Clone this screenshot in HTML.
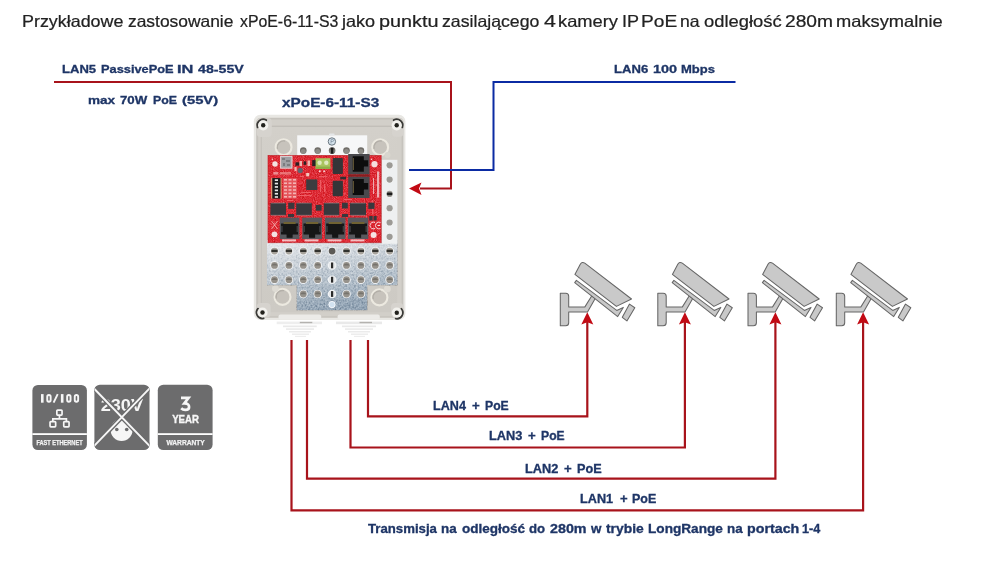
<!DOCTYPE html>
<html><head><meta charset="utf-8">
<style>
html,body{margin:0;padding:0;background:#fff;width:1002px;height:562px;overflow:hidden;position:relative;font-family:"Liberation Sans",sans-serif;}
.t{position:absolute;white-space:nowrap;line-height:1;transform-origin:0 0;will-change:transform;}
.nav{color:#1e3566;font-weight:bold;-webkit-text-stroke:0.3px #1e3566;}
#svgmain{position:absolute;left:0;top:0;}
</style></head><body>
<div id="title" style="position:absolute;left:0;top:13.25px;font-size:15.2px;color:#222;line-height:1;-webkit-text-stroke:0.2px #222;"><span class="t tw" style="left:22.00px;transform:scale(1.1779,1.1);">Przykładowe</span><span class="t tw" style="left:127.50px;transform:scale(1.1452,1.1);">zastosowanie</span><span class="t tw" style="left:240.00px;transform:scale(1.0431,1.1);">xPoE-6-11-S3</span><span class="t tw" style="left:342.10px;transform:scale(1.1874,1.1);">jako</span><span class="t tw" style="left:378.90px;transform:scale(1.3055,1.1);">punktu</span><span class="t tw" style="left:442.00px;transform:scale(1.1645,1.1);">zasilającego</span><span class="t tw" style="left:543.50px;transform:scale(1.4074,1.1);">4</span><span class="t tw" style="left:558.10px;transform:scale(1.2050,1.1);">kamery</span><span class="t tw" style="left:621.80px;transform:scale(1.1834,1.1);">IP</span><span class="t tw" style="left:641.10px;transform:scale(1.2585,1.1);">PoE</span><span class="t tw" style="left:680.40px;transform:scale(1.1569,1.1);">na</span><span class="t tw" style="left:704.30px;transform:scale(1.2089,1.1);">odległość</span><span class="t tw" style="left:785.00px;transform:scale(1.2639,1.1);">280m</span><span class="t tw" style="left:836.20px;transform:scale(1.2032,1.1);">maksymalnie</span></div>
<div id="lan5" class="nav" style="position:absolute;left:0;top:64.07px;font-size:11.5px;line-height:1;"><span class="t" style="left:62.00px;transform:scaleX(1.1364);">LAN5</span><span class="t" style="left:100.80px;transform:scaleX(1.1138);">PassivePoE</span><span class="t" style="left:176.80px;transform:scaleX(1.4208);">IN</span><span class="t" style="left:198.30px;transform:scaleX(1.2330);">48-55V</span></div>
<div id="max70" class="nav" style="position:absolute;left:0;top:94.87px;font-size:10.9px;line-height:1;"><span class="t" style="left:87.60px;transform:scaleX(1.2428);">max</span><span class="t" style="left:120.10px;transform:scaleX(1.2173);">70W</span><span class="t" style="left:152.50px;transform:scaleX(1.1317);">PoE</span><span class="t" style="left:181.60px;transform:scaleX(1.3562);">(55V)</span></div>
<div id="xpoe" class="t nav" style="left:282.00px;top:96.83px;font-size:12.6px;word-spacing:0px;transform:scale(1.2178,1.0);">xPoE-6-11-S3</div>
<div id="lan6" class="nav" style="position:absolute;left:0;top:63.77px;font-size:11.5px;line-height:1;"><span class="t" style="left:614.30px;transform:scaleX(1.1379);">LAN6</span><span class="t" style="left:652.80px;transform:scaleX(1.2562);">100</span><span class="t" style="left:680.80px;transform:scaleX(1.1335);">Mbps</span></div>
<div id="lan4" class="nav" style="position:absolute;left:0;top:399.57px;font-size:12.2px;line-height:1;"><span class="t" style="left:433.30px;transform:scaleX(1.0340);">LAN4</span><span class="t" style="left:471.70px;transform:scaleX(1.0873);">+</span><span class="t" style="left:484.90px;transform:scaleX(0.9990);">PoE</span></div>
<div id="lan3" class="nav" style="position:absolute;left:0;top:429.87px;font-size:12.2px;line-height:1;"><span class="t" style="left:489.00px;transform:scaleX(1.0495);">LAN3</span><span class="t" style="left:528.40px;transform:scaleX(1.0801);">+</span><span class="t" style="left:540.60px;transform:scaleX(0.9924);">PoE</span></div>
<div id="lan2" class="nav" style="position:absolute;left:0;top:462.57px;font-size:12.2px;line-height:1;"><span class="t" style="left:524.90px;transform:scaleX(1.0480);">LAN2</span><span class="t" style="left:564.30px;transform:scaleX(1.0786);">+</span><span class="t" style="left:576.50px;transform:scaleX(1.0400);">PoE</span></div>
<div id="lan1" class="nav" style="position:absolute;left:0;top:492.67px;font-size:12.2px;line-height:1;"><span class="t" style="left:580.40px;transform:scaleX(1.0396);">LAN1</span><span class="t" style="left:619.80px;transform:scaleX(1.0700);">+</span><span class="t" style="left:632.00px;transform:scaleX(1.0248);">PoE</span></div>
<div id="trans" class="nav" style="position:absolute;left:0;top:522.67px;font-size:12.2px;line-height:1;"><span class="t" style="left:368.00px;transform:scaleX(1.0825);">Transmisja</span><span class="t" style="left:441.40px;transform:scaleX(1.1000);">na</span><span class="t" style="left:462.00px;transform:scaleX(1.1100);">odległość</span><span class="t" style="left:529.20px;transform:scaleX(1.0826);">do</span><span class="t" style="left:550.30px;transform:scaleX(1.1727);">280m</span><span class="t" style="left:590.70px;transform:scaleX(1.1000);">w</span><span class="t" style="left:606.00px;transform:scaleX(1.1384);">trybie</span><span class="t" style="left:648.00px;transform:scaleX(1.1171);">LongRange</span><span class="t" style="left:726.80px;transform:scaleX(1.1000);">na</span><span class="t" style="left:747.00px;transform:scaleX(1.1703);">portach</span><span class="t" style="left:802.30px;transform:scaleX(1.0357);">1-4</span></div>

<svg id="svgmain" width="1002" height="562" viewBox="0 0 1002 562" font-family="Liberation Sans">
<defs>
<g id="cam" fill="#c9c9c9" stroke="#666" stroke-width="1.05" stroke-linejoin="round">
  <path d="M5.3,35.2 H10.7 Q13.7,35.2 13.7,38.2 V48.9 H29.9 L36.8,37.8 L40.2,40.4 L32.5,54 H13.7 V64.7 Q13.7,67.7 10.7,67.7 H5.3 Z"/>
  <path d="M21.4,22.4 L61.7,52.4 L68.3,49.4 L62.7,58.6 L19.7,24.6 Z"/>
  <path d="M19.9,16.4 L25.3,6.3 Q26.9,3.4 29.8,5.1 L76.5,41 L61.4,48.4 Z"/>
  <path d="M74.5,46.1 L79.8,49.7 L71.9,62.9 L67.3,59.3 Z"/>
</g>
</defs>
<use href="#cam" x="555" y="258"/>
<use href="#cam" x="652.5" y="258"/>
<use href="#cam" x="742.7" y="258"/>
<use href="#cam" x="831" y="258"/>
<defs>
<linearGradient id="plateg" x1="0" y1="0" x2="0.25" y2="1">
  <stop offset="0" stop-color="#eaecef"/><stop offset="0.3" stop-color="#d2d8de"/><stop offset="0.7" stop-color="#b3bfca"/><stop offset="1" stop-color="#97a8b8"/>
</linearGradient>
<linearGradient id="floorg" x1="0" y1="0" x2="0" y2="1">
  <stop offset="0" stop-color="#d3d0ca"/><stop offset="1" stop-color="#cdcac4"/>
</linearGradient>
<filter id="speck" x="0" y="0" width="1" height="1" color-interpolation-filters="sRGB">
  <feTurbulence type="fractalNoise" baseFrequency="0.55" numOctaves="2" seed="7" result="n"/>
  <feColorMatrix in="n" type="matrix" values="0.33 0.33 0.33 0 0  0.33 0.33 0.33 0 0  0.33 0.33 0.33 0 0  0 0 0 0 1" result="g"/>
  <feComponentTransfer in="g" result="g2"><feFuncR type="linear" slope="1.8" intercept="-0.4"/><feFuncG type="linear" slope="1.8" intercept="-0.4"/><feFuncB type="linear" slope="1.8" intercept="-0.4"/></feComponentTransfer>
  <feBlend in="g2" in2="SourceGraphic" mode="soft-light" result="b"/>
  <feComposite in="b" in2="SourceAlpha" operator="in"/>
</filter>
<filter id="pcbspeck" x="0" y="0" width="1" height="1" color-interpolation-filters="sRGB">
  <feTurbulence type="fractalNoise" baseFrequency="1.1" numOctaves="1" seed="11" result="n"/>
  <feColorMatrix in="n" type="matrix" values="0.33 0.33 0.33 0 0  0.33 0.33 0.33 0 0  0.33 0.33 0.33 0 0  0 0 0 0 1" result="g"/>
  <feComponentTransfer in="g" result="g2"><feFuncR type="linear" slope="2.2" intercept="-0.55"/><feFuncG type="linear" slope="2.2" intercept="-0.55"/><feFuncB type="linear" slope="2.2" intercept="-0.55"/></feComponentTransfer>
  <feBlend in="g2" in2="SourceGraphic" mode="soft-light" result="b"/>
  <feComposite in="b" in2="SourceAlpha" operator="in"/>
</filter>
<filter id="soft" x="-5%" y="-5%" width="110%" height="110%"><feGaussianBlur stdDeviation="0.35"/></filter>
</defs><g id="device" filter="url(#soft)">
  <!-- glands -->
  <g>
    <rect x="276.7" y="321.6" width="45.3" height="2.6" fill="#eeeeee"/>
    <rect x="299.8" y="321.8" width="12.5" height="1.4" fill="#b4b2af"/>
    <rect x="283" y="325.5" width="33.7" height="1.7" fill="#e9e9e9"/>
    <rect x="286" y="328.3" width="28" height="1.6" fill="#eaeaea"/>
    <rect x="289" y="331" width="22" height="1.5" fill="#ebebeb"/>
    <rect x="292" y="333.5" width="17" height="1.4" fill="#ececec"/>
    <rect x="295" y="335.8" width="11" height="1.2" fill="#ededed"/>
    <rect x="336" y="321.6" width="46" height="2.6" fill="#e9e9e9"/>
    <rect x="359.5" y="321.8" width="12.5" height="1.4" fill="#b4b2af"/>
    <rect x="342" y="325.5" width="34" height="1.7" fill="#e9e9e9"/>
    <rect x="345" y="328.3" width="28" height="1.6" fill="#eaeaea"/>
    <rect x="348" y="331" width="22" height="1.5" fill="#ebebeb"/>
    <rect x="351" y="333.5" width="17" height="1.4" fill="#ececec"/>
    <rect x="354" y="335.8" width="11" height="1.2" fill="#ededed"/>
  </g>
  <!-- enclosure -->
  <rect x="253.8" y="114.8" width="151.6" height="205.2" rx="6.5" fill="#e8e7e3"/>
  <rect x="256.2" y="117.8" width="147.2" height="200" rx="4.5" fill="#c6c3bd"/>
  <rect x="258.2" y="119.6" width="143.4" height="196.6" rx="3" fill="#d2cfc9"/>
  <rect x="261.7" y="126.2" width="135.5" height="186" fill="url(#floorg)"/>
  <rect x="258.2" y="125.6" width="143.4" height="1.4" fill="#c2bfb9"/>
  <rect x="260.8" y="126" width="0.9" height="186" fill="#c2bfb9"/>
  <!-- boss protrusions -->
  <rect x="256.6" y="118" width="15.2" height="19" rx="4" fill="#d6d3ce"/>
  <rect x="392" y="118" width="11.6" height="18.7" rx="4" fill="#d6d3ce"/>
  <rect x="256.6" y="303" width="14" height="14.5" rx="4" fill="#d6d3ce"/>
  <rect x="391" y="303" width="12.4" height="14.5" rx="4" fill="#d6d3ce"/>
  <path d="M257.66 127.32 A5.9 5.9 0 0 1 266.15 120.19" stroke="#3b3a37" stroke-width="2.0" fill="none" stroke-linecap="round"/><circle cx="263.2" cy="125.3" r="5.1" fill="#f2f1ed"/><circle cx="263.2" cy="125.3" r="2.2" fill="#24231f"/>
  <path d="M393.75 120.19 A5.9 5.9 0 0 1 402.24 127.32" stroke="#3b3a37" stroke-width="2.0" fill="none" stroke-linecap="round"/><circle cx="396.7" cy="125.3" r="5.1" fill="#f2f1ed"/><circle cx="396.7" cy="125.3" r="2.2" fill="#24231f"/>
  <path d="M263.52 318.31 A5.9 5.9 0 0 1 257.98 308.71" stroke="#3b3a37" stroke-width="2.0" fill="none" stroke-linecap="round"/><circle cx="262.5" cy="312.5" r="5.1" fill="#f2f1ed"/><circle cx="262.5" cy="312.5" r="2.2" fill="#24231f"/>
  <path d="M401.32 308.91 A5.9 5.9 0 0 1 395.78 318.51" stroke="#3b3a37" stroke-width="2.0" fill="none" stroke-linecap="round"/><circle cx="396.8" cy="312.7" r="5.1" fill="#f2f1ed"/><circle cx="396.8" cy="312.7" r="2.2" fill="#24231f"/>
  <rect x="278.5" y="314.6" width="42.7" height="5" rx="2" fill="#ecebe8"/>
  <rect x="337.6" y="314.6" width="42.2" height="5" rx="2" fill="#ecebe8"/>
  <!-- ring bosses -->
  <g fill="#c7c3bc" stroke="#ece9e0" stroke-width="2.1">
    <circle cx="283.6" cy="147.2" r="7.9"/>
    <circle cx="380.2" cy="147.2" r="7.9"/>
    <circle cx="282.5" cy="296.9" r="8.0"/>
    <circle cx="379.4" cy="297.4" r="8.0"/>
  </g>
  <path d="M277.40 148.29 A6.3 6.3 0 0 1 284.69 141.00" stroke="#b3afa8" stroke-width="1.4" fill="none" stroke-linecap="round"/><path d="M374.00 148.29 A6.3 6.3 0 0 1 381.29 141.00" stroke="#b3afa8" stroke-width="1.4" fill="none" stroke-linecap="round"/>
  <path d="M276.20 298.01 A6.4 6.4 0 0 1 283.61 290.60" stroke="#b3afa8" stroke-width="1.4" fill="none" stroke-linecap="round"/><path d="M373.10 298.51 A6.4 6.4 0 0 1 380.51 291.10" stroke="#b3afa8" stroke-width="1.4" fill="none" stroke-linecap="round"/>
  <circle cx="275.4" cy="288.5" r="3.4" fill="#dedbd4"/>
  <circle cx="387.4" cy="288.9" r="3.4" fill="#dedbd4"/>
  <circle cx="387.5" cy="155" r="3" fill="#d8d5ce"/>
  <!-- top plate -->
  <rect x="297.2" y="135.3" width="70" height="22" fill="#f6f7f8"/><rect x="329" y="133.6" width="5.6" height="2" rx="1" fill="#e4e6e8"/>
  <circle cx="303.3" cy="150.5" r="3.3" fill="#6f6d68"/><circle cx="303.3" cy="151.6" r="2.5" fill="#8e8c87"/><circle cx="317.7" cy="150.5" r="3.3" fill="#6f6d68"/><circle cx="317.7" cy="151.6" r="2.5" fill="#8e8c87"/><circle cx="332.1" cy="150.5" r="3.3" fill="#6f6d68"/><circle cx="332.1" cy="151.6" r="2.5" fill="#8e8c87"/><rect x="330.8" y="147.7" width="2.6" height="6" fill="#1c1c1c"/><circle cx="346.5" cy="150.5" r="3.3" fill="#6f6d68"/><circle cx="346.5" cy="151.6" r="2.5" fill="#8e8c87"/><circle cx="360.9" cy="150.5" r="3.3" fill="#6f6d68"/><circle cx="360.9" cy="151.6" r="2.5" fill="#8e8c87"/>
  <circle cx="331.9" cy="141.5" r="3.7" fill="#d4e2ec" stroke="#5d6a74" stroke-width="0.9"/><path d="M331 139.6 V143.4 M331 139.6 H332.8 Q333.6 139.6 333.6 140.6 Q333.6 141.5 332.6 141.5 H331" stroke="#6b8090" stroke-width="0.6" fill="none"/>
  <!-- lower plate -->
  <path d="M267 240 H397.6 V285.3 H367.4 V310.2 H296.6 V285.3 H267 Z" fill="url(#plateg)" filter="url(#speck)"/>
  <circle cx="274.5" cy="251.1" r="4.3" fill="#f1f3f5"/><circle cx="274.5" cy="251.1" r="3.4" fill="#a6a29b"/><rect x="271.4" y="249.7" width="6.2" height="2.3" fill="#33322f"/><circle cx="288.9" cy="251.1" r="4.3" fill="#f1f3f5"/><circle cx="288.9" cy="251.1" r="3.4" fill="#a6a29b"/><rect x="285.8" y="249.7" width="6.2" height="2.3" fill="#33322f"/><circle cx="303.3" cy="251.1" r="4.3" fill="#f1f3f5"/><circle cx="303.3" cy="251.1" r="3.4" fill="#a6a29b"/><rect x="300.2" y="249.7" width="6.2" height="2.3" fill="#33322f"/><circle cx="317.7" cy="251.1" r="4.3" fill="#f1f3f5"/><circle cx="317.7" cy="251.1" r="3.4" fill="#a6a29b"/><rect x="314.6" y="249.7" width="6.2" height="2.3" fill="#33322f"/><circle cx="332.1" cy="251.1" r="4.3" fill="#f1f3f5"/><circle cx="332.1" cy="251.1" r="3.4" fill="#5c5a56"/><circle cx="346.5" cy="251.1" r="4.3" fill="#f1f3f5"/><circle cx="346.5" cy="251.1" r="3.4" fill="#a6a29b"/><rect x="343.4" y="249.7" width="6.2" height="2.3" fill="#33322f"/><circle cx="360.9" cy="251.1" r="4.3" fill="#f1f3f5"/><circle cx="360.9" cy="251.1" r="3.4" fill="#a6a29b"/><rect x="357.8" y="249.7" width="6.2" height="2.3" fill="#33322f"/><circle cx="375.3" cy="251.1" r="4.3" fill="#f1f3f5"/><circle cx="375.3" cy="251.1" r="3.4" fill="#a6a29b"/><rect x="372.2" y="249.7" width="6.2" height="2.3" fill="#33322f"/><circle cx="389.7" cy="251.1" r="4.3" fill="#f1f3f5"/><circle cx="389.7" cy="251.1" r="3.4" fill="#a6a29b"/><rect x="386.6" y="249.7" width="6.2" height="2.3" fill="#33322f"/><circle cx="274.5" cy="265.4" r="4.3" fill="#f1f3f5"/><circle cx="274.5" cy="265.4" r="3.4" fill="#96928b"/><path d="M271.4 265.6 A3.4 3.4 0 0 1 277.6 265.6 Z" fill="#76736d"/><circle cx="288.9" cy="265.4" r="4.3" fill="#f1f3f5"/><circle cx="288.9" cy="265.4" r="3.4" fill="#96928b"/><path d="M285.8 265.6 A3.4 3.4 0 0 1 292.0 265.6 Z" fill="#76736d"/><circle cx="303.3" cy="265.4" r="4.3" fill="#f1f3f5"/><circle cx="303.3" cy="265.4" r="3.4" fill="#96928b"/><path d="M300.2 265.6 A3.4 3.4 0 0 1 306.4 265.6 Z" fill="#76736d"/><circle cx="317.7" cy="265.4" r="4.3" fill="#f1f3f5"/><circle cx="317.7" cy="265.4" r="3.4" fill="#96928b"/><path d="M314.6 265.6 A3.4 3.4 0 0 1 320.8 265.6 Z" fill="#76736d"/><circle cx="332.1" cy="265.4" r="4.3" fill="#f1f3f5"/><circle cx="332.1" cy="265.4" r="3.1" fill="#e4e6e8"/><rect x="331.0" y="262.5" width="2.2" height="5.8" fill="#2a2a2a"/><circle cx="346.5" cy="265.4" r="4.3" fill="#f1f3f5"/><circle cx="346.5" cy="265.4" r="3.4" fill="#96928b"/><path d="M343.4 265.6 A3.4 3.4 0 0 1 349.6 265.6 Z" fill="#76736d"/><circle cx="360.9" cy="265.4" r="4.3" fill="#f1f3f5"/><circle cx="360.9" cy="265.4" r="3.4" fill="#96928b"/><path d="M357.8 265.6 A3.4 3.4 0 0 1 364.0 265.6 Z" fill="#76736d"/><circle cx="375.3" cy="265.4" r="4.3" fill="#f1f3f5"/><circle cx="375.3" cy="265.4" r="3.4" fill="#96928b"/><path d="M372.2 265.6 A3.4 3.4 0 0 1 378.4 265.6 Z" fill="#76736d"/><circle cx="389.7" cy="265.4" r="4.3" fill="#f1f3f5"/><circle cx="389.7" cy="265.4" r="3.4" fill="#96928b"/><path d="M386.6 265.6 A3.4 3.4 0 0 1 392.8 265.6 Z" fill="#76736d"/><circle cx="274.5" cy="279.7" r="4.3" fill="#f1f3f5"/><circle cx="274.5" cy="279.7" r="3.4" fill="#96928b"/><path d="M271.4 279.9 A3.4 3.4 0 0 1 277.6 279.9 Z" fill="#76736d"/><circle cx="288.9" cy="279.7" r="4.3" fill="#f1f3f5"/><circle cx="288.9" cy="279.7" r="3.4" fill="#96928b"/><path d="M285.8 279.9 A3.4 3.4 0 0 1 292.0 279.9 Z" fill="#76736d"/><circle cx="303.3" cy="279.7" r="4.3" fill="#f1f3f5"/><circle cx="303.3" cy="279.7" r="3.4" fill="#96928b"/><path d="M300.2 279.9 A3.4 3.4 0 0 1 306.4 279.9 Z" fill="#76736d"/><circle cx="317.7" cy="279.7" r="4.3" fill="#f1f3f5"/><circle cx="317.7" cy="279.7" r="3.4" fill="#96928b"/><path d="M314.6 279.9 A3.4 3.4 0 0 1 320.8 279.9 Z" fill="#76736d"/><circle cx="332.1" cy="279.7" r="4.3" fill="#f1f3f5"/><circle cx="332.1" cy="279.7" r="3.1" fill="#e4e6e8"/><rect x="331.0" y="276.8" width="2.2" height="5.8" fill="#2a2a2a"/><circle cx="346.5" cy="279.7" r="4.3" fill="#f1f3f5"/><circle cx="346.5" cy="279.7" r="3.4" fill="#96928b"/><path d="M343.4 279.9 A3.4 3.4 0 0 1 349.6 279.9 Z" fill="#76736d"/><circle cx="360.9" cy="279.7" r="4.3" fill="#f1f3f5"/><circle cx="360.9" cy="279.7" r="3.4" fill="#96928b"/><path d="M357.8 279.9 A3.4 3.4 0 0 1 364.0 279.9 Z" fill="#76736d"/><circle cx="375.3" cy="279.7" r="4.3" fill="#f1f3f5"/><circle cx="375.3" cy="279.7" r="3.4" fill="#96928b"/><path d="M372.2 279.9 A3.4 3.4 0 0 1 378.4 279.9 Z" fill="#76736d"/><circle cx="389.7" cy="279.7" r="4.3" fill="#f1f3f5"/><circle cx="389.7" cy="279.7" r="3.4" fill="#96928b"/><path d="M386.6 279.9 A3.4 3.4 0 0 1 392.8 279.9 Z" fill="#76736d"/><circle cx="303.3" cy="294.0" r="4.3" fill="#f1f3f5"/><circle cx="303.3" cy="294.0" r="3.4" fill="#96928b"/><path d="M300.2 294.2 A3.4 3.4 0 0 1 306.4 294.2 Z" fill="#76736d"/><circle cx="317.7" cy="294.0" r="4.3" fill="#f1f3f5"/><circle cx="317.7" cy="294.0" r="3.4" fill="#96928b"/><path d="M314.6 294.2 A3.4 3.4 0 0 1 320.8 294.2 Z" fill="#76736d"/><circle cx="332.1" cy="294.0" r="4.3" fill="#f1f3f5"/><circle cx="332.1" cy="294.0" r="3.1" fill="#e4e6e8"/><rect x="331.0" y="291.1" width="2.2" height="5.8" fill="#2a2a2a"/><circle cx="346.5" cy="294.0" r="4.3" fill="#f1f3f5"/><circle cx="346.5" cy="294.0" r="3.4" fill="#96928b"/><path d="M343.4 294.2 A3.4 3.4 0 0 1 349.6 294.2 Z" fill="#76736d"/><circle cx="360.9" cy="294.0" r="4.3" fill="#f1f3f5"/><circle cx="360.9" cy="294.0" r="3.4" fill="#96928b"/><path d="M357.8 294.2 A3.4 3.4 0 0 1 364.0 294.2 Z" fill="#76736d"/>
  <circle cx="332" cy="304.6" r="3.2" fill="#d2e2f0" stroke="#fafcfe" stroke-width="0.9"/>
  <!-- right strip -->
  <rect x="381.8" y="159.8" width="15.6" height="84" fill="#eef0f1"/>
  <circle cx="389.6" cy="165.7" r="3.3" fill="#fafafa"/><circle cx="389.6" cy="165.3" r="3.1" fill="#9c9a95"/><circle cx="389.6" cy="180.0" r="3.3" fill="#fafafa"/><circle cx="389.6" cy="179.6" r="3.1" fill="#9c9a95"/><circle cx="389.6" cy="194.3" r="3.3" fill="#fafafa"/><circle cx="389.6" cy="193.9" r="3.1" fill="#9c9a95"/><rect x="386.8" y="192.6" width="5.6" height="2.6" rx="1.2" fill="#1f1f1f"/><circle cx="389.6" cy="208.6" r="3.3" fill="#fafafa"/><circle cx="389.6" cy="208.2" r="3.1" fill="#9c9a95"/><circle cx="389.6" cy="222.9" r="3.3" fill="#fafafa"/><circle cx="389.6" cy="222.5" r="3.1" fill="#9c9a95"/><circle cx="389.6" cy="237.2" r="3.3" fill="#fafafa"/><circle cx="389.6" cy="236.8" r="3.1" fill="#9c9a95"/>
  <!-- PCB -->
  <rect x="268" y="155.3" width="113.2" height="87.5" fill="#dc2630" filter="url(#pcbspeck)"/>
  <rect x="268" y="155.3" width="113.2" height="87.5" fill="none" stroke="#c41e26" stroke-width="0.6"/>
  <!-- light speckle texture areas -->
  <g fill="#f26a70" opacity="0.8">
    <rect x="296" y="168" width="1.2" height="6"/><rect x="300" y="176" width="4" height="1"/><rect x="319" y="176" width="8" height="1.2"/>
    <rect x="320" y="180" width="1.2" height="12"/><rect x="324" y="184" width="1.2" height="8"/><rect x="287" y="200" width="6" height="1"/>
    <rect x="301" y="192" width="10" height="1"/><rect x="298" y="195" width="14" height="1"/><rect x="344" y="199" width="8" height="1"/>
    <rect x="372" y="200" width="1.2" height="14"/><rect x="366" y="216" width="1" height="20"/>
  </g>
  <!-- QR -->
  <rect x="280.1" y="155.8" width="12.4" height="12.9" fill="#e9d6d8"/>
  <rect x="281.1" y="156.8" width="10.4" height="10.9" fill="#9fa0a4"/>
  <g fill="#7b7c80"><rect x="282" y="158" width="3" height="2"/><rect x="286" y="160" width="4" height="2"/><rect x="283" y="163" width="2" height="3"/><rect x="287" y="164" width="3" height="2"/></g>
  <circle cx="275" cy="164" r="2.7" fill="#f4e2e2"/>
  <circle cx="272.4" cy="159.3" r="0.8" fill="#f4c8c8"/>
  <!-- small parts -->
  <g fill="#2b2425">
    <rect x="295.5" y="162.3" width="3.8" height="3.4"/><rect x="303.6" y="161.4" width="2.6" height="3.4"/><rect x="312.2" y="160.1" width="3.8" height="6"/>
  </g>
  <g fill="#f0b6b0"><rect x="299.5" y="161" width="2.5" height="5"/><rect x="307.5" y="160.5" width="2.5" height="5.5"/><rect x="294.5" y="167" width="2" height="4"/></g>
  <circle cx="300.2" cy="170.4" r="2.6" fill="#5f6670"/>
  <rect x="306.2" y="173" width="3" height="3.4" fill="#f3c9c0"/>
  <!-- green terminal -->
  <rect x="315.6" y="158.2" width="14.8" height="10.6" fill="#a9c45e"/>
  <rect x="315.6" y="166.6" width="14.8" height="2.2" fill="#8fae48"/>
  <circle cx="319.6" cy="162.8" r="2.2" fill="#dfe9c0"/><circle cx="326.3" cy="162.8" r="2.2" fill="#dfe9c0"/>
  <circle cx="319.8" cy="171.2" r="0.9" fill="#f8e0e0"/><circle cx="324.1" cy="171.2" r="0.9" fill="#f8e0e0"/>
  <!-- PoE text -->
  <rect x="273.3" y="172" width="5" height="2.6" fill="#f0a0a4" opacity="0.8"/><rect x="280" y="172" width="11" height="2.6" fill="#f09090" opacity="0.7"/>
  <!-- DIP switch -->
  <rect x="271.2" y="178.1" width="1.3" height="20.5" fill="#d9b07a"/>
  <rect x="280.2" y="178.1" width="1.3" height="20.5" fill="#d9b07a"/>
  <rect x="272.3" y="178.1" width="8.2" height="20.5" fill="#1c1c1e"/>
  <g fill="#e6e6e6">
    <rect x="274.8" y="179.3" width="3.2" height="1.7"/><rect x="274.8" y="182.7" width="3.2" height="1.7"/><rect x="274.8" y="186.1" width="3.2" height="1.7"/><rect x="274.8" y="189.5" width="3.2" height="1.7"/><rect x="274.8" y="192.9" width="3.2" height="1.7"/><rect x="274.8" y="196.2" width="3.2" height="1.6"/>
  </g>
  <!-- resistor array -->
  <rect x="283" y="178.1" width="14" height="20.5" fill="#e4545a"/>
  <g fill="#f4b4b4">
    <rect x="284" y="179" width="3" height="1.6"/><rect x="288.5" y="179" width="3" height="1.6"/><rect x="293" y="179" width="3" height="1.6"/>
    <rect x="284" y="182.4" width="3" height="1.6"/><rect x="288.5" y="182.4" width="3" height="1.6"/><rect x="293" y="182.4" width="3" height="1.6"/>
    <rect x="284" y="185.8" width="3" height="1.6"/><rect x="288.5" y="185.8" width="3" height="1.6"/><rect x="293" y="185.8" width="3" height="1.6"/>
    <rect x="284" y="189.2" width="3" height="1.6"/><rect x="288.5" y="189.2" width="3" height="1.6"/><rect x="293" y="189.2" width="3" height="1.6"/>
    <rect x="284" y="192.6" width="3" height="1.6"/><rect x="288.5" y="192.6" width="3" height="1.6"/><rect x="293" y="192.6" width="3" height="1.6"/>
    <rect x="284" y="196" width="3" height="1.6"/><rect x="288.5" y="196" width="3" height="1.6"/><rect x="293" y="196" width="3" height="1.6"/>
  </g>
  <!-- central IC -->
  <rect x="306.2" y="179.4" width="11.1" height="10.6" fill="#3a3c40"/>
  <!-- transformers -->
  <rect x="332.7" y="158" width="10.2" height="16" rx="1" fill="#353539"/>
  <rect x="332.7" y="180.7" width="10.2" height="15.6" rx="1" fill="#353539"/>
  <rect x="340.2" y="176.7" width="5.8" height="2.7" fill="#2e2e30"/>
  <!-- top RJ45 -->
  <rect x="348.2" y="154" width="21.4" height="20.5" fill="#4a4a4e"/>
  <path d="M352.7 156.2 H363.8 V160.2 H368.2 V166.5 H363.8 V171.8 H352.7 Z" fill="#0c0c0c"/>
  <rect x="352.9" y="158" width="1" height="12" fill="#8a7a48" opacity="0.7"/>
  <rect x="348.2" y="174.5" width="21.4" height="2.2" fill="#8c1a1e"/>
  <rect x="348.2" y="176.7" width="21.4" height="21.3" fill="#4a4a4e"/>
  <path d="M352.7 178.9 H363.8 V183 H368.2 V189.5 H363.8 V195 H352.7 Z" fill="#0c0c0c"/>
  <rect x="352.9" y="181" width="1" height="12" fill="#8a7a48" opacity="0.7"/>
  <circle cx="374.5" cy="164.2" r="3.1" fill="#f6dede"/>
  <circle cx="371.5" cy="159.3" r="0.7" fill="#f6dede"/>
  <g fill="#f2c4c6" opacity="0.85">
    <rect x="377" y="171.5" width="2.2" height="26"/>
    <rect x="373" y="178" width="1" height="16"/>
  </g>
  <!-- chip row -->
  <g fill="#39393d">
    <rect x="270.4" y="203.1" width="15.6" height="12"/>
    <rect x="296.2" y="203.1" width="15.6" height="12"/>
    <rect x="323.8" y="203.1" width="15.5" height="12"/>
    <rect x="350" y="203.1" width="16" height="12"/>
    <rect x="288.2" y="202.7" width="6.3" height="6.2"/>
    <rect x="315.8" y="204.9" width="5.8" height="5.8"/>
    <rect x="342" y="202.7" width="5.8" height="5.8"/>
    <rect x="368.3" y="202.7" width="6.2" height="6.2"/>
    <rect x="369.2" y="216" width="3.5" height="4.5"/><rect x="373.6" y="216" width="3.1" height="4.5"/>
    <rect x="288" y="214" width="6" height="3"/><rect x="342" y="214" width="6" height="3"/>
  </g>
  <g fill="#8a8a8e" opacity="0.6">
    <rect x="271" y="202.6" width="14.4" height="1"/><rect x="296.8" y="202.6" width="14.4" height="1"/><rect x="324.4" y="202.6" width="14.4" height="1"/><rect x="350.6" y="202.6" width="14.8" height="1"/>
    <rect x="271" y="214.8" width="14.4" height="1"/><rect x="296.8" y="214.8" width="14.4" height="1"/><rect x="324.4" y="214.8" width="14.4" height="1"/><rect x="350.6" y="214.8" width="14.8" height="1"/>
  </g>
  <!-- bottom RJ45 -->
  <g><rect x="279.8" y="217.6" width="19.6" height="21.4" fill="#58585d"/><path d="M281.1 223.6 H298.1 V234.5 H292.6 V237.8 H286.6 V234.5 H281.1 Z" fill="#121212"/><rect x="281.1" y="226" width="1.6" height="6" fill="#3a3a3e"/><rect x="296.5" y="226" width="1.6" height="6" fill="#3a3a3e"/><rect x="283.6" y="222" width="12.0" height="2" fill="#6f6232"/><rect x="302.2" y="217.6" width="19.8" height="21.4" fill="#58585d"/><path d="M303.5 223.6 H320.7 V234.5 H315.1 V237.8 H309.1 V234.5 H303.5 Z" fill="#121212"/><rect x="303.5" y="226" width="1.6" height="6" fill="#3a3a3e"/><rect x="319.1" y="226" width="1.6" height="6" fill="#3a3a3e"/><rect x="306.0" y="222" width="12.2" height="2" fill="#6f6232"/><rect x="324.9" y="217.6" width="20.6" height="21.4" fill="#58585d"/><path d="M326.2 223.6 H344.2 V234.5 H338.2 V237.8 H332.2 V234.5 H326.2 Z" fill="#121212"/><rect x="326.2" y="226" width="1.6" height="6" fill="#3a3a3e"/><rect x="342.6" y="226" width="1.6" height="6" fill="#3a3a3e"/><rect x="328.7" y="222" width="13.0" height="2" fill="#6f6232"/><rect x="347.9" y="217.6" width="20.4" height="21.4" fill="#58585d"/><path d="M349.2 223.6 H367.0 V234.5 H361.1 V237.8 H355.1 V234.5 H349.2 Z" fill="#121212"/><rect x="349.2" y="226" width="1.6" height="6" fill="#3a3a3e"/><rect x="365.4" y="226" width="1.6" height="6" fill="#3a3a3e"/><rect x="351.7" y="222" width="12.8" height="2" fill="#6f6232"/></g>
  <g fill="#f8e4e4" opacity="0.8">
    <rect x="282" y="239.4" width="14" height="2"/><rect x="304.5" y="239.4" width="14" height="2"/><rect x="327.5" y="239.4" width="14" height="2"/><rect x="350.5" y="239.4" width="14" height="2"/>
  </g>
  <!-- recycle + CE -->
  <path d="M271.5 221 L277.5 229 M277.5 221 L271.5 229" stroke="#f4b8b8" stroke-width="0.8" fill="none"/>
  <circle cx="274.5" cy="234.3" r="2.9" fill="#f4e2e2"/>
  <path d="M375 222.5 A3.4 3.4 0 1 0 375 228.5" stroke="#f6dcdc" stroke-width="1" fill="none"/>
  <path d="M380.5 222.5 A3.4 3.4 0 1 0 380.5 228.5 M377.5 225.5 H380" stroke="#f6dcdc" stroke-width="1" fill="none"/>
  <circle cx="373.6" cy="235.1" r="3" fill="#f6e4e4"/>
</g>
<g id="badges">
  <rect x="32.4" y="385" width="54.5" height="65.1" rx="5.5" fill="#6c6c6d"/>
  <rect x="32.4" y="433.2" width="54.5" height="1.8" fill="#fff"/>
  <g fill="#f6f6f6"><rect x="41" y="394.1" width="2.6" height="8.6"/><rect x="60.9" y="394.1" width="2.6" height="8.6"/></g>
  <g fill="none" stroke="#f6f6f6" stroke-width="1.9"><rect x="47.25" y="395.05" width="3.4" height="6.7" rx="1.7"/><rect x="67.15" y="395.05" width="3.4" height="6.7" rx="1.7"/><rect x="74.75" y="395.05" width="3.4" height="6.7" rx="1.7"/><path d="M53.6 402.7 L57.7 394.1"/></g>
  <g fill="none" stroke="#f6f6f6" stroke-width="1.7">
    <rect x="56.85" y="410.05" width="5.2" height="5.1" rx="0.8"/>
    <rect x="50.05" y="421.55" width="5.6" height="5.3" rx="0.8"/>
    <rect x="63.75" y="421.55" width="5.3" height="5.3" rx="0.8"/>
    <path d="M59.45 415.9 V418.85 M52.85 421.5 V418.85 H66.4 V421.5"/>
  </g>
  <text x="36.4" y="445.1" font-size="6.4" font-weight="bold" fill="#f2f2f2" stroke="#f2f2f2" stroke-width="0.25" textLength="46.2" lengthAdjust="spacingAndGlyphs">FAST ETHERNET</text>

  <rect x="94.4" y="384.7" width="55.1" height="65.4" rx="5.5" fill="#6c6c6d"/>
  <text x="100.7" y="410.6" font-size="16.6" font-weight="bold" fill="#f6f6f6" textLength="42.3" lengthAdjust="spacingAndGlyphs">230V</text>
  <circle cx="121.6" cy="430" r="11" fill="#f6f6f6"/>
  <circle cx="116.8" cy="429.5" r="1.8" fill="#6c6c6d"/>
  <circle cx="126.7" cy="429.5" r="1.8" fill="#6c6c6d"/>
  <clipPath id="b2clip"><rect x="94.4" y="384.7" width="55.1" height="65.4" rx="5.5"/></clipPath>
  <g clip-path="url(#b2clip)">
  <path d="M93.5 388 L150 446.3 M150.5 387.3 L93.5 446.6" stroke="#6c6c6d" stroke-width="4.6"/>
  <path d="M93.5 388 L150 446.3 M150.5 387.3 L93.5 446.6" stroke="#f6f6f6" stroke-width="1.9"/>
  </g>

  <rect x="157.8" y="384.7" width="54.8" height="65.4" rx="5.5" fill="#6c6c6d"/>
  <rect x="157.8" y="433.2" width="54.8" height="1.8" fill="#fff"/>
  <path d="M181 397.8 H188.6 L184.4 403.3 C187.7 403.1 189.1 405.2 189.1 406.9 C189.1 408.9 187.5 409.9 185.3 409.9 C183.5 409.9 182.2 409.3 181.2 408.3" fill="none" stroke="#f6f6f6" stroke-width="2.7" stroke-linejoin="miter"/>
  <text x="172.2" y="422.7" font-size="10" font-weight="bold" fill="#f6f6f6" stroke="#f6f6f6" stroke-width="0.35" textLength="26.8" lengthAdjust="spacingAndGlyphs">YEAR</text>
  <text x="166.4" y="445" font-size="6.8" font-weight="bold" fill="#f2f2f2" stroke="#f2f2f2" stroke-width="0.25" textLength="38.4" lengthAdjust="spacingAndGlyphs">WARRANTY</text>
</g>
<g fill="none" stroke-linejoin="miter" stroke-linecap="butt">
  <!-- LAN5 red -->
  <path d="M54 82 H451 V188.5 H420" stroke="#a8131b" stroke-width="2"/>
  <!-- LAN6 blue -->
  <path d="M735.5 82 H493.5 V170 H409" stroke="#0b2ba3" stroke-width="2"/>
  <!-- bottom lines -->
  <path d="M368 340 V416.3 H587.3 V322" stroke="#a8131b" stroke-width="2.2"/>
  <path d="M350.5 340 V447.5 H684.9 V322" stroke="#a8131b" stroke-width="2.2"/>
  <path d="M307 340 V478.6 H775.4 V322" stroke="#a8131b" stroke-width="2.2"/>
  <path d="M291.5 340 V510.4 H863.1 V322" stroke="#a8131b" stroke-width="2.2"/>
</g>
<!-- arrowheads -->
<g fill="#c20a14">
  <path d="M409 188.5 L421.5 182.5 L419 188.5 L421.5 195 Z"/>
  <path id="ah" d="M0 0 L6 12.3 L0 10 L-6 12.3 Z" transform="translate(587.3 312.2)"/>
  <path d="M0 0 L6 12.3 L0 10 L-6 12.3 Z" transform="translate(684.9 312.2)"/>
  <path d="M0 0 L6 12.3 L0 10 L-6 12.3 Z" transform="translate(775.4 312.2)"/>
  <path d="M0 0 L6 12.3 L0 10 L-6 12.3 Z" transform="translate(863.1 312.2)"/>
</g>
</svg>
</body></html>
